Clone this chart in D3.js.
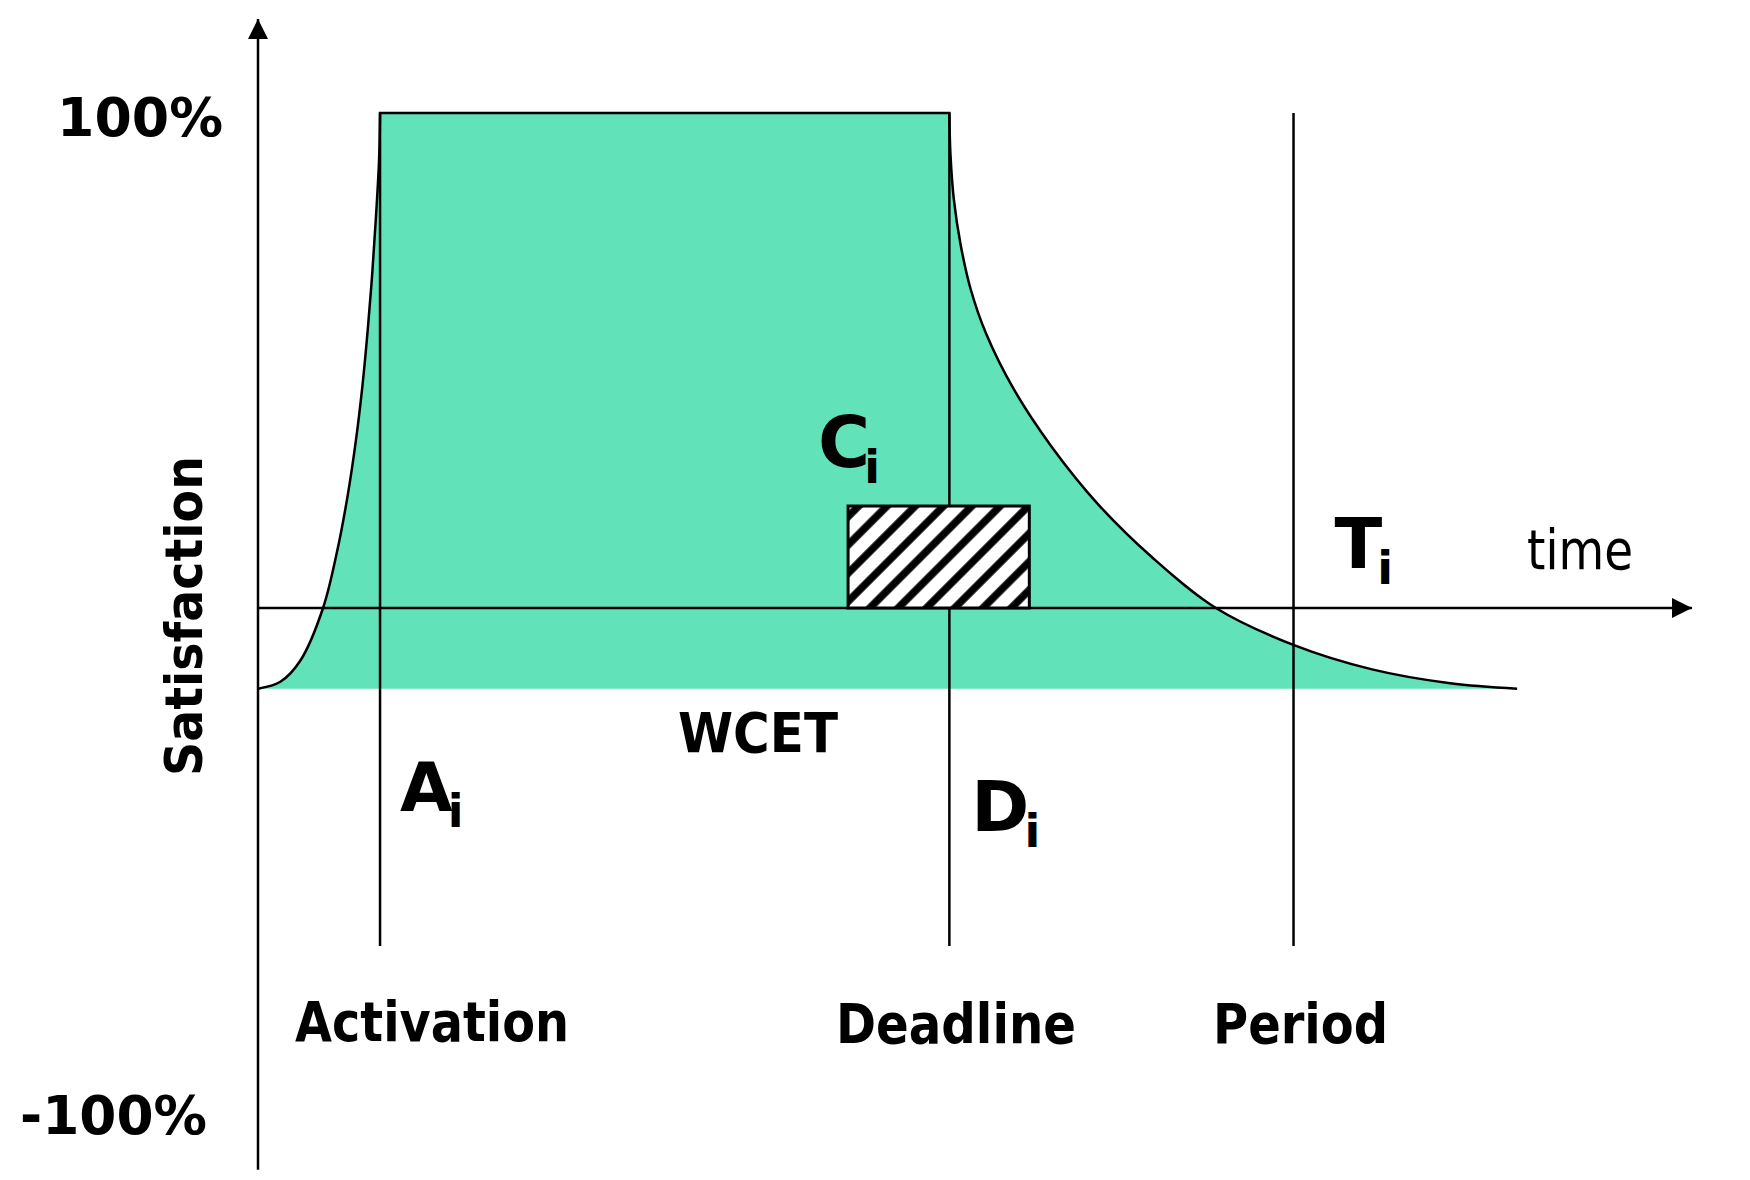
<!DOCTYPE html>
<html>
<head>
<meta charset="utf-8">
<script src="https://cdn.jsdelivr.net/npm/d3@7"></script>
<style>
  body { margin: 0; background: #fff; }
  text { font-family: "DejaVu Sans", sans-serif; fill: #000; }
</style>
</head>
<body>
<div id="canvas"></div>
<script>
// satisfaction curve, in time units and percent
const riseTimes = [0, 0.366, 0.695, 1.066, 1.294, 1.468, 1.605, 1.714, 1.801, 1.874, 1.934, 1.984, 2.0];
const riseValues = [-16.3, -14.9, -10.6, 0, 11.3, 22.6, 33.9, 45.2, 56.6, 67.9, 79.2, 90.5, 100];
const decayTimes = [11.33, 11.348, 11.403, 11.513, 11.677, 11.933, 12.39, 12.993, 13.779, 14.656, 15.698, 16.978, 18.257, 19.537, 20.634];
const decayValues = [100, 91.6, 82.6, 73.5, 64.5, 55.4, 44.1, 32.8, 20.8, 10.2, 0, -7.5, -12.4, -15.2, -16.3];
const floorValue = -16.3;

const markerNames = ["Activation", "Deadline", "Period"];
const markerSymbols = ["A", "D", "T"];
const markerTimes = [2, 11.33, 16.97];
const markerBottom = -68.3;

const wcetSpan = [9.67, 12.64];
const wcetLevel = 20.6;

const yTickValues = [100, -100];
const yTickLabels = ["100%", "-100%"];

const width = 1750;
const height = 1180;

const svg = d3.select("#canvas").append("svg")
  .attr("width", width)
  .attr("height", height);

const x = d3.scaleLinear().domain([0, 23.5]).range([258, 1692]);
const y = d3.scaleLinear().domain([-100, 100]).range([1103, 113]);

const defs = svg.append("defs");
defs.append("marker")
  .attr("id", "arrow")
  .attr("markerUnits", "userSpaceOnUse")
  .attr("viewBox", "0 -10 20 20")
  .attr("markerWidth", 20)
  .attr("markerHeight", 20)
  .attr("refX", 20)
  .attr("refY", 0)
  .attr("orient", "auto")
  .append("path")
  .attr("d", "M0,-10L20,0L0,10Z")
  .attr("fill", "#000");

const hatch = defs.append("pattern")
  .attr("id", "hatch")
  .attr("patternUnits", "userSpaceOnUse")
  .attr("width", 20)
  .attr("height", 20)
  .attr("patternTransform", "rotate(45)");
hatch.append("rect").attr("width", 20).attr("height", 20).attr("fill", "#fff");
hatch.append("line")
  .attr("x1", 5).attr("x2", 5).attr("y1", 0).attr("y2", 20)
  .attr("stroke", "#000").attr("stroke-width", 7.5);

const rise = riseTimes.map((t, i) => [t, riseValues[i]]);
const decay = decayTimes.map((t, i) => [t, decayValues[i]]);

const line = d3.line()
  .x(d => x(d[0]))
  .y(d => y(d[1]))
  .curve(d3.curveCatmullRom.alpha(0.5));

// rise, flat top, decay as one outline
const outline = line(rise) + "L" + line(decay).slice(1);
const last = decay[decay.length - 1];
const fillPath = outline +
  `L${x(last[0])},${y(floorValue)}L${x(rise[0][0])},${y(floorValue)}Z`;

svg.append("path")
  .attr("d", fillPath)
  .attr("fill", "#62e2b9");

// vertical marker lines
svg.selectAll(".marker")
  .data(markerTimes)
  .enter()
  .append("line")
  .attr("class", "marker")
  .attr("x1", d => x(d)).attr("x2", d => x(d))
  .attr("y1", y(100)).attr("y2", y(markerBottom))
  .attr("stroke", "#000")
  .attr("stroke-width", 2.5);

// axes
svg.append("line")
  .attr("x1", x(0)).attr("x2", x(0))
  .attr("y1", y(-113.5)).attr("y2", y(119))
  .attr("stroke", "#000").attr("stroke-width", 2.5)
  .attr("marker-end", "url(#arrow)");

svg.append("line")
  .attr("x1", x(0)).attr("x2", x(23.5))
  .attr("y1", y(0)).attr("y2", y(0))
  .attr("stroke", "#000").attr("stroke-width", 2.5)
  .attr("marker-end", "url(#arrow)");

svg.append("path")
  .attr("d", outline)
  .attr("fill", "none")
  .attr("stroke", "#000")
  .attr("stroke-width", 2.5);

// WCET box
svg.append("rect")
  .attr("x", x(wcetSpan[0]))
  .attr("y", y(wcetLevel))
  .attr("width", x(wcetSpan[1]) - x(wcetSpan[0]))
  .attr("height", y(0) - y(wcetLevel))
  .attr("fill", "url(#hatch)")
  .attr("stroke", "#000")
  .attr("stroke-width", 3);

// y tick labels
const tickX = [57, 20];
const tickDy = [23, 31];
const tickLen = [166, 187];
yTickLabels.forEach((lab, i) => {
  svg.append("text")
    .attr("x", tickX[i])
    .attr("y", y(yTickValues[i]) + tickDy[i])
    .attr("font-size", 54)
    .attr("font-weight", "bold")
    .attr("textLength", tickLen[i])
    .attr("lengthAdjust", "spacingAndGlyphs")
    .text(lab);
});

svg.append("text")
  .attr("transform", `translate(202, ${y(0) + 8}) rotate(-90)`)
  .attr("text-anchor", "middle")
  .attr("font-size", 52)
  .attr("font-weight", "bold")
  .attr("textLength", 320)
  .attr("lengthAdjust", "spacingAndGlyphs")
  .text("Satisfaction");

// bottom marker names
const nameX = [295, 836, 1213];
const nameLen = [274, 240, 175];
markerNames.forEach((name, i) => {
  svg.append("text")
    .attr("x", nameX[i])
    .attr("y", i === 0 ? 1041 : 1043)
    .attr("font-size", 56)
    .attr("font-weight", "bold")
    .attr("textLength", nameLen[i])
    .attr("lengthAdjust", "spacingAndGlyphs")
    .text(name);
});

// subscripted symbols
function symbol(main, px, py, size, shift) {
  const t = svg.append("text")
    .attr("x", px)
    .attr("y", py)
    .attr("font-size", size)
    .attr("font-weight", "bold");
  t.append("tspan").text(main);
  t.append("tspan")
    .attr("dx", shift)
    .attr("dy", 16)
    .attr("font-size", 46)
    .text("i");
}

symbol(markerSymbols[0], x(markerTimes[0]) + 20, 811, 68, -5);
symbol(markerSymbols[1], x(markerTimes[1]) + 22, 831, 70, -5);
symbol(markerSymbols[2], x(markerTimes[2]) + 41, 568, 70, -5);
symbol("C", x(wcetSpan[0]) - 30, 467, 71, -6);

svg.append("text")
  .attr("x", 678)
  .attr("y", 752)
  .attr("font-size", 55)
  .attr("font-weight", "bold")
  .attr("textLength", 160)
  .attr("lengthAdjust", "spacingAndGlyphs")
  .text("WCET");

svg.append("text")
  .attr("x", 1527)
  .attr("y", 569)
  .attr("font-size", 56)
  .attr("textLength", 106)
  .attr("lengthAdjust", "spacingAndGlyphs")
  .text("time");
</script>
</body>
</html>
